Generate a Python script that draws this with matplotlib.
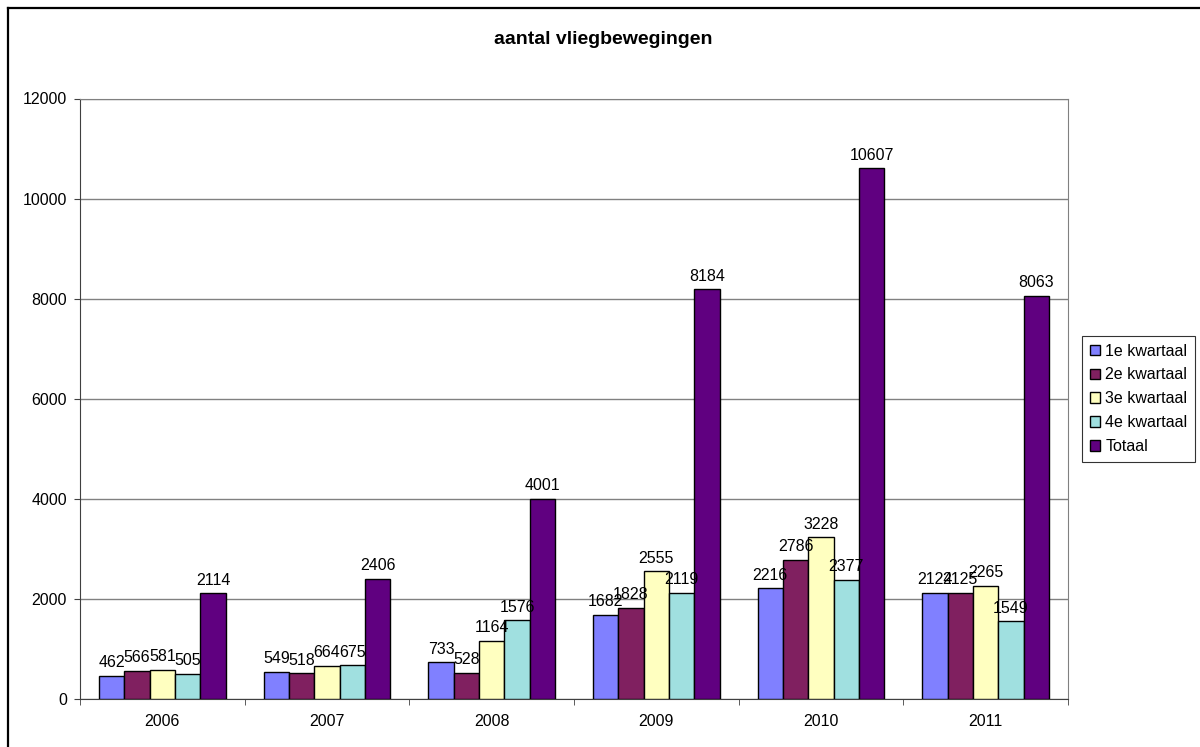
import numpy as np
import matplotlib.pyplot as plt
from matplotlib.lines import Line2D

plt.rcParams['font.family'] = ['Liberation Sans', 'DejaVu Sans']

years = ['2006', '2007', '2008', '2009', '2010', '2011']
series = ['1e kwartaal', '2e kwartaal', '3e kwartaal', '4e kwartaal', 'Totaal']
q1 = [462, 549, 733, 1682, 2216, 2124]
q2 = [566, 518, 528, 1828, 2786, 2125]
q3 = [581, 664, 1164, 2555, 3228, 2265]
q4 = [505, 675, 1576, 2119, 2377, 1549]
totaal = [2114, 2406, 4001, 8184, 10607, 8063]
colors = ['#8080FF', '#802060', '#FFFFC0', '#A0E0E0', '#600080']

W, H = 1200, 747
fig = plt.figure(figsize=(12, 7.47), dpi=100)
ax = fig.add_axes([80 / W, 1 - 699 / H, 988 / W, 600.5 / H])

# chart border (only left and top edges fall inside the image)
x0, y0 = 7.5 / W, 1 - 7.5 / H
fig.lines.append(Line2D([x0, x0], [0, y0], transform=fig.transFigure, color='black', lw=1.6))
fig.lines.append(Line2D([x0, 1], [y0, y0], transform=fig.transFigure, color='black', lw=1.6))

fs = 11.5
x = np.arange(len(years))
w = 0.154
for i, (vals, name) in enumerate(zip([q1, q2, q3, q4, totaal], series)):
    pos = x + (i - 2) * w
    bars = ax.bar(pos, vals, w, color=colors[i], edgecolor='black', linewidth=1.0,
                  label=name, zorder=3)
    for b, v in zip(bars, vals):
        ax.annotate(str(v), (b.get_x() + b.get_width() / 2, v), xytext=(0, 4),
                    textcoords='offset points', ha='center', va='bottom', fontsize=fs,
                    zorder=6)

ax.set_xlim(-0.5, len(years) - 0.5)
ax.set_ylim(0, 12000)
ax.set_yticks(range(0, 12001, 2000))
ax.set_xticks(x)
ax.set_xticklabels(years)
ax.set_xticks(np.arange(-0.5, len(years)), minor=True)
ax.tick_params(axis='x', which='major', length=0, labelsize=fs, pad=11)
ax.tick_params(axis='x', which='minor', length=4.5, direction='out', color='#404040')
ax.tick_params(axis='y', length=4.5, direction='out', labelsize=fs, pad=5, color='#404040')
ax.yaxis.grid(True, color='#808080', linewidth=1.0, zorder=0)
for s in ['top', 'right']:
    ax.spines[s].set_color('#808080')
for s in ['left', 'bottom']:
    ax.spines[s].set_color('#404040')

fig.text(603 / W, 1 - 40 / H, 'aantal vliegbewegingen', fontsize=14, fontweight='bold',
         ha='center', va='center')

leg = ax.legend(loc='center left', bbox_to_anchor=(1.0142, 0.5), fontsize=fs,
                frameon=True, fancybox=False, edgecolor='black', handlelength=0.65,
                handleheight=0.65, handletextpad=0.3, borderpad=0.5, labelspacing=0.55,
                borderaxespad=0)
leg.get_frame().set_linewidth(0.8)
leg.set_zorder(7)

plt.savefig('out.png', dpi=100)
